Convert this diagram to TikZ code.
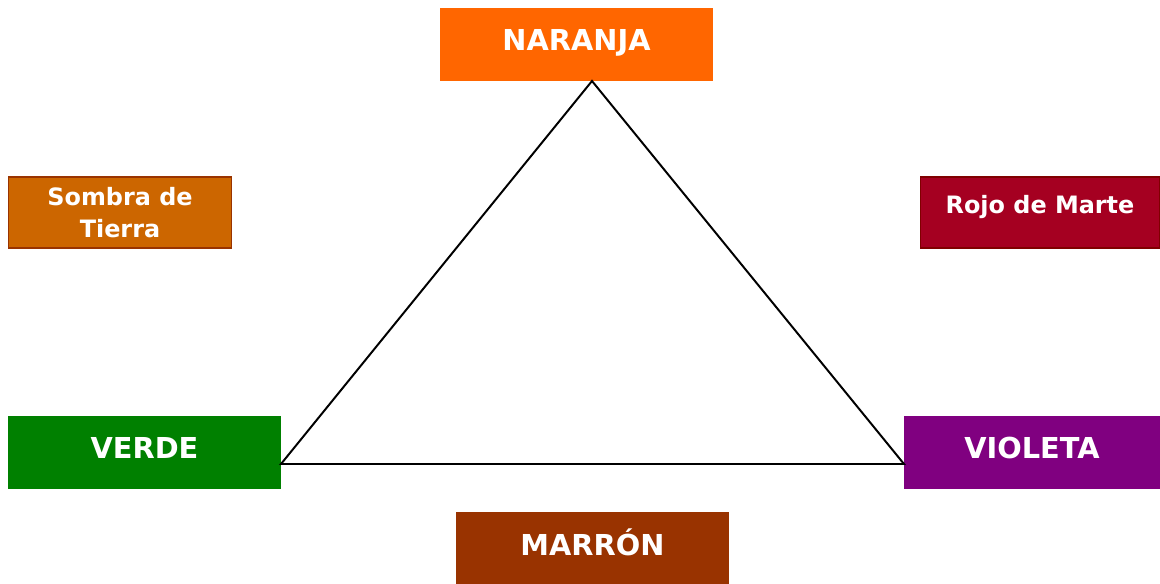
\documentclass[tikz,border=0pt]{standalone}
\usepackage{fontspec}
\setmainfont{DejaVu Sans}
\usetikzlibrary{positioning}
\definecolor{naranja}{HTML}{FF6600}
\definecolor{sombra}{HTML}{CC6600}
\definecolor{sombraborde}{HTML}{993300}
\definecolor{rojo}{HTML}{A50021}
\definecolor{rojoborde}{HTML}{800000}
\definecolor{verde}{HTML}{008000}
\definecolor{violeta}{HTML}{800080}
\definecolor{marron}{HTML}{993300}

\begin{document}
\begin{tikzpicture}[x=0.025cm,y=-0.025cm,
  big/.style={rectangle,minimum width=273*0.025cm,minimum height=73*0.025cm,
    inner sep=0pt,text=white,text height=15pt,text depth=7pt,
    font=\bfseries\fontsize{20.5}{24}\selectfont},
  small/.style={rectangle,minimum height=71*0.025cm,line width=0.9pt,
    inner sep=0pt,text=white,align=center,font=\bfseries\fontsize{17}{22.5}\selectfont}]
  \useasboundingbox (0,0) rectangle (1160,584);
  \node[big, fill=naranja] (naranja) at (576.5,44.5) {NARANJA};
  \node[big, fill=verde] (verde) at (144.5,452.5) {VERDE};
  \node[big, fill=violeta, minimum width=256*0.025cm] (violeta) at (1032,452.5) {VIOLETA};
  \node[big, fill=marron, minimum height=72*0.025cm, text depth=4pt] (marron) at (592.5,548) {MARRÓN};
  \node[small, fill=sombra, draw=sombraborde, minimum width=223*0.025cm] (sombra) at (120,212.5) {Sombra de\\Tierra};
  \node[small, fill=rojo, draw=rojoborde, minimum width=239*0.025cm,
    text height=12pt, text depth=10pt] (rojo) at (1040,212.5) {Rojo de Marte};
  \coordinate (top) at (592,81);
  \coordinate (left) at (281,464);
  \coordinate (right) at (904,464);
  \draw[line width=1.4pt, line join=miter] (top) -- (left) -- (right) -- cycle;
\end{tikzpicture}
\end{document}
